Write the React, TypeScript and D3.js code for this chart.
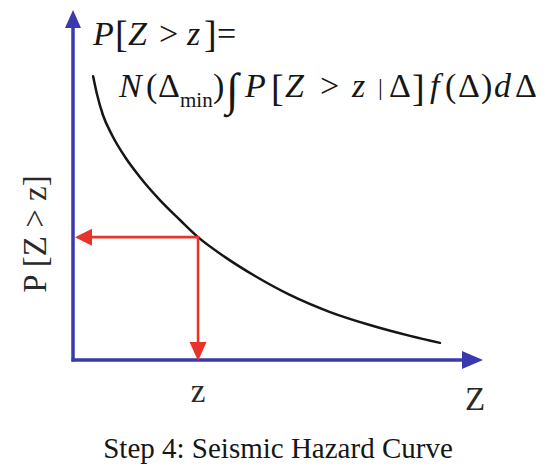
import React from "react";
import * as d3 from "d3";

// Hazard curve samples: ground-motion level Z (normalised) vs exceedance probability
const zValues = [0.049, 0.059, 0.073, 0.095, 0.127, 0.163, 0.212, 0.261, 0.305, 0.371, 0.444, 0.529, 0.627, 0.724, 0.822, 0.895];
const pValues = [0.811, 0.757, 0.7, 0.643, 0.58, 0.523, 0.457, 0.4, 0.351, 0.294, 0.24, 0.186, 0.137, 0.1, 0.069, 0.049];

// Selected level z and its read-off probability
const zMark = 0.305;
const pMark = 0.351;

const xAxisLabel = "Z";
const xMarkLabel = "z";
const yAxisLabel = "P [Z > z]";
const caption = "Step 4: Seismic Hazard Curve";

const W = 549;
const H = 466;
const BLUE = "#3a3aae";
const RED = "#e8332b";
const INK = "#161616";
const SERIF = "'Liberation Serif', 'Times New Roman', serif";

// Formula glyphs: text, pen x, italic, size, baseline shift
type Tok = { t: string; x: number; it?: boolean; fs?: number; dy?: number };

const formula1: Tok[] = [
  { t: "P", x: 93, it: true },
  { t: "[", x: 115, fs: 38, dy: 2 },
  { t: "Z", x: 128, it: true },
  { t: ">", x: 159 },
  { t: "z", x: 187, it: true },
  { t: "]", x: 204, fs: 38, dy: 2 },
  { t: "=", x: 217 },
];

const formula2: Tok[] = [
  { t: "N", x: 119, it: true },
  { t: "(", x: 146 },
  { t: "Δ", x: 158 },
  { t: "min", x: 180, fs: 21, dy: 10 },
  { t: ")", x: 213 },
  { t: "∫", x: 226, fs: 46, dy: 8 },
  { t: "P", x: 245, it: true },
  { t: "[", x: 271, fs: 38, dy: 4 },
  { t: "Z", x: 285, it: true },
  { t: ">", x: 320 },
  { t: "z", x: 352, it: true },
  { t: "|", x: 378, fs: 24, dy: -2 },
  { t: "Δ", x: 389 },
  { t: "]", x: 412, fs: 38, dy: 4 },
  { t: "f", x: 430, it: true },
  { t: "(", x: 445 },
  { t: "Δ", x: 458 },
  { t: ")", x: 481 },
  { t: "d", x: 494, it: true },
  { t: "Δ", x: 515 },
];

function Formula({ toks, y, fs }: { toks: Tok[]; y: number; fs: number }) {
  return (
    <g fontFamily={SERIF} fontSize={fs} fill={INK}>
      {toks.map((k, i) => (
        <text
          key={i}
          x={k.x}
          y={y + (k.dy ?? 0)}
          fontStyle={k.it ? "italic" : "normal"}
          fontSize={k.fs ?? fs}
        >
          {k.t}
        </text>
      ))}
    </g>
  );
}

export default function App() {
  const x = d3.scaleLinear().domain([0, 1]).range([73, 483]);
  const y = d3.scaleLinear().domain([0, 1]).range([360, 10]);

  const pts: [number, number][] = zValues.map((z, i) => [x(z), y(pValues[i])]);
  const curve = d3.line().curve(d3.curveMonotoneX)(pts) ?? "";

  const x0 = x(0);
  const y0 = y(0);
  const xEnd = x(1);
  const yEnd = y(1);
  const mx = x(zMark);
  const my = y(pMark);

  return (
    <svg width={W} height={H} style={{ position: "absolute", left: 0, top: 0, background: "#fff" }}>
      <rect width={W} height={H} fill="#fff" />

      {/* axes with arrowheads */}
      <line x1={x0} y1={y0 + 1.5} x2={x0} y2={yEnd + 17} stroke={BLUE} strokeWidth={3.5} />
      <path d={`M${x0},${yEnd} L${x0 - 8},${yEnd + 18} L${x0 + 8},${yEnd + 18} Z`} fill={BLUE} />
      <line x1={x0 - 1.5} y1={y0} x2={xEnd - 20} y2={y0} stroke={BLUE} strokeWidth={3.5} />
      <path d={`M${xEnd},${y0} L${xEnd - 21},${y0 - 9} L${xEnd - 21},${y0 + 9} Z`} fill={BLUE} />

      {/* hazard curve */}
      <path d={curve} fill="none" stroke={INK} strokeWidth={2.5} strokeLinecap="round" />

      {/* read-off arrows */}
      <line x1={mx} y1={my} x2={x0 + 18} y2={my} stroke={RED} strokeWidth={2.6} />
      <path d={`M${x0 + 2},${my} L${x0 + 19},${my - 8.5} L${x0 + 19},${my + 8.5} Z`} fill={RED} />
      <line x1={mx} y1={my - 1.3} x2={mx} y2={y0 - 17} stroke={RED} strokeWidth={2.6} />
      <path d={`M${mx},${y0 + 1} L${mx - 8.5},${y0 - 18} L${mx + 8.5},${y0 - 18} Z`} fill={RED} />

      {/* labels */}
      <text x={mx} y={402} textAnchor="middle" fontFamily={SERIF} fontSize={33} fill="#2a2a2a">
        {xMarkLabel}
      </text>
      <text x={xEnd - 8} y={410} textAnchor="middle" fontFamily={SERIF} fontSize={33} fill="#2a2a2a">
        {xAxisLabel}
      </text>
      <text
        transform={`translate(46,234) rotate(-90)`}
        textAnchor="middle"
        fontFamily={SERIF}
        fontSize={33}
        fill="#2a2a2a"
      >
        {yAxisLabel}
      </text>

      <Formula toks={formula1} y={45} fs={34} />
      <Formula toks={formula2} y={97} fs={34} />

      <text x={278} y={458} textAnchor="middle" fontFamily={SERIF} fontSize={29} fill={INK}>
        {caption}
      </text>
    </svg>
  );
}
